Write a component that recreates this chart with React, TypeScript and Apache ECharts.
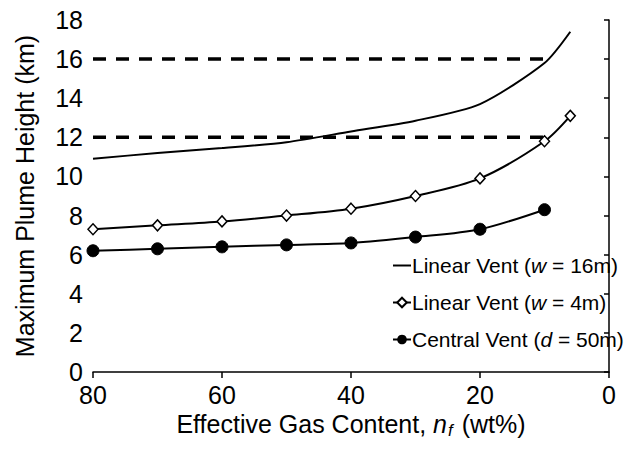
import React, { useEffect, useRef } from "react";
import * as echarts from "echarts";

const xValues = [80, 70, 60, 50, 40, 30, 20, 10, 6];
const linear16 = [10.9, 11.2, 11.45, 11.75, 12.3, 12.85, 13.7, 15.8, 17.4];
const linear4 = [7.3, 7.5, 7.7, 8.0, 8.35, 9.0, 9.9, 11.8, 13.1];
const centralX = [80, 70, 60, 50, 40, 30, 20, 10];
const central50 = [6.2, 6.3, 6.4, 6.5, 6.6, 6.9, 7.3, 8.3];
const refX = [80, 10];
const ref16 = [16, 16];
const ref12 = [12, 12];

const FONT = "'Liberation Sans', Arial, sans-serif";

export default function App() {
  const ref = useRef<HTMLDivElement>(null);
  useEffect(() => {
    if (!ref.current) return;
    document.body.style.margin = "0";
    const chart = echarts.init(ref.current, null, { renderer: "svg" });
    const pair = (xs: number[], ys: number[]) => xs.map((x, i) => [x, ys[i]]);
    chart.setOption({
      animation: false,
      backgroundColor: "#fff",
      textStyle: { fontFamily: FONT },
      grid: { left: 93, right: 22, top: 20, bottom: 77, containLabel: false, outerBoundsMode: "none" },
      xAxis: {
        type: "value",
        min: 0,
        max: 80,
        interval: 20,
        inverse: true,
        name: "Effective Gas Content, {i|n}{s|f}{n|(wt%)}",
        nameLocation: "middle",
        nameGap: 33,
        nameTextStyle: {
          fontSize: 25,
          color: "#000",
          fontFamily: FONT,
          rich: {
            n: { fontSize: 25, color: "#000", fontFamily: FONT },
            i: { fontSize: 25, fontStyle: "italic", color: "#000", fontFamily: FONT },
            s: { fontSize: 17, fontStyle: "italic", color: "#000", fontFamily: FONT, padding: [12, 9, 0, 1] },
          },
        },
        axisLine: { lineStyle: { color: "#000", width: 1.5 } },
        axisTick: { inside: false, length: 6, lineStyle: { color: "#000", width: 1.5 } },
        axisLabel: { fontSize: 25, color: "#000", margin: 10, fontFamily: FONT },
        splitLine: { show: false },
      },
      yAxis: {
        type: "value",
        min: 0,
        max: 18,
        interval: 2,
        name: "Maximum Plume Height (km)",
        nameLocation: "middle",
        nameGap: 56,
        nameTextStyle: { fontSize: 25, color: "#000", fontFamily: FONT },
        axisLine: { show: true, lineStyle: { color: "#000", width: 1.5 } },
        axisTick: { show: true, inside: false, length: 5, lineStyle: { color: "#000", width: 1.5 } },
        axisLabel: { fontSize: 25, color: "#000", margin: 10, fontFamily: FONT },
        splitLine: { show: false },
      },
      legend: {
        orient: "vertical",
        left: 387,
        top: 250,
        itemWidth: 18,
        itemHeight: 12,
        itemGap: 16,
        data: [
          { name: "lv16", icon: "path://M0,0 L20,0 L20,2.2 L0,2.2 Z" },
          { name: "lv4" },
          { name: "cv50" },
        ],
        formatter: (name: string) => {
          if (name === "lv16") return "{n|Linear Vent (}{i|w}{n| = 16m)}";
          if (name === "lv4") return "{n|Linear Vent (}{i|w}{n| = 4m)}";
          return "{n|Central Vent (}{i|d}{n| = 50m)}";
        },
        textStyle: {
          fontSize: 21,
          color: "#000",
          fontFamily: FONT,
          padding: [0, 0, 0, -4],
          rich: {
            n: { fontSize: 21, color: "#000", fontFamily: FONT, lineHeight: 23 },
            i: { fontSize: 21, fontStyle: "italic", color: "#000", fontFamily: FONT, lineHeight: 23 },
          },
        },
      },
      series: [
        {
          name: "ref16",
          type: "line",
          data: pair(refX, ref16),
          showSymbol: false,
          symbol: "none",
          lineStyle: { color: "#000", width: 3.5, type: [13, 10] },
          z: 1,
        },
        {
          name: "ref12",
          type: "line",
          data: pair(refX, ref12),
          showSymbol: false,
          symbol: "none",
          lineStyle: { color: "#000", width: 3.5, type: [13, 10] },
          z: 1,
        },
        {
          name: "lv16",
          type: "line",
          data: pair(xValues, linear16),
          symbol: "none",
          smooth: 0.25,
          itemStyle: { color: "#000" },
          lineStyle: { color: "#000", width: 2 },
          z: 2,
        },
        {
          name: "lv4",
          type: "line",
          data: pair(xValues, linear4),
          symbol: "diamond",
          symbolSize: [10, 11],
          smooth: 0.3,
          itemStyle: { color: "#fff", borderColor: "#000", borderWidth: 1.5 },
          lineStyle: { color: "#000", width: 2 },
          z: 3,
        },
        {
          name: "cv50",
          type: "line",
          data: pair(centralX, central50),
          symbol: "circle",
          symbolSize: 12,
          smooth: 0.3,
          itemStyle: { color: "#000", borderColor: "#000" },
          lineStyle: { color: "#000", width: 2 },
          z: 3,
        },
      ],
    });
    return () => chart.dispose();
  }, []);
  return <div ref={ref} style={{ width: 631, height: 449 }} />;
}
